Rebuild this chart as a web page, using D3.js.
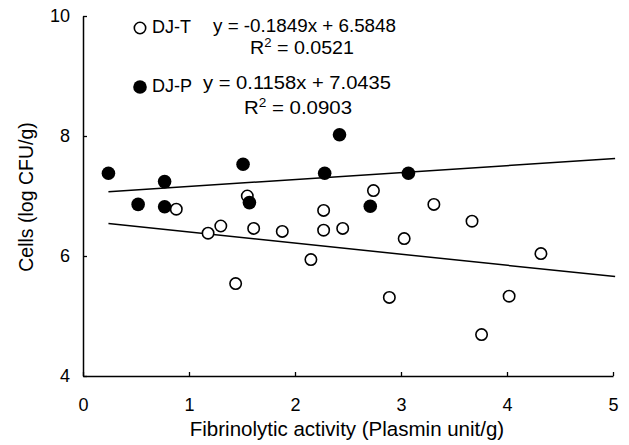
<!DOCTYPE html>
<html>
<head>
<meta charset="utf-8">
<script src="https://cdn.jsdelivr.net/npm/d3@7"></script>
<style>
  html, body { margin: 0; padding: 0; background: #fff; }
  svg { display: block; }
  text { font-family: "Liberation Sans", Arial, Helvetica, sans-serif; fill: #000; }
</style>
</head>
<body>
<svg id="chart" width="629" height="445"></svg>
<script>
// ---- data ----
const xTicks = [0, 1, 2, 3, 4, 5];
const yTicks = [4, 6, 8, 10];

const djT_x = [0.88, 1.55, 1.18, 1.30, 1.61, 1.88, 2.27, 2.27, 2.45, 2.15, 1.44, 2.74, 3.31, 3.67, 3.03, 4.32, 2.89, 4.02, 3.76];
const djT_y = [6.78, 7.00, 6.38, 6.50, 6.46, 6.41, 6.76, 6.43, 6.46, 5.94, 5.54, 7.09, 6.86, 6.58, 6.29, 6.04, 5.31, 5.33, 4.69];

const djP_x = [0.24, 0.77, 1.51, 2.42, 2.28, 0.52, 0.77, 1.57, 3.07, 2.71];
const djP_y = [7.38, 7.24, 7.53, 8.02, 7.38, 6.86, 6.82, 6.89, 7.38, 6.83];

const fitT = { slope: -0.1849, intercept: 6.5848, r2: "0.0521", label: "DJ-T", eq: "y = -0.1849x + 6.5848" };
const fitP = { slope: 0.1158, intercept: 7.0435, r2: "0.0903", label: "DJ-P", eq: "y = 0.1158x + 7.0435" };
const fitRange = [0.24, 5.02];

const xTitle = "Fibrinolytic activity (Plasmin unit/g)";
const yTitle = "Cells (log CFU/g)";

// ---- layout ----
const svg = d3.select("#chart");
const x = d3.scaleLinear().domain([0, 5]).range([83, 613]);
const y = d3.scaleLinear().domain([4, 10]).range([376, 16]);

// axes
const xAxis = d3.axisBottom(x).tickValues(xTicks).tickSizeInner(-4).tickSizeOuter(0).tickPadding(22).tickFormat(d3.format("d"));
const yAxis = d3.axisLeft(y).tickValues(yTicks).tickSizeInner(-4).tickSizeOuter(0).tickPadding(13).tickFormat(d3.format("d"));

const gx = svg.append("g").attr("transform", `translate(0,${y(4)})`).call(xAxis);
const gy = svg.append("g").attr("transform", `translate(${x(0)},0)`).call(yAxis);
[gx, gy].forEach(g => {
  g.select(".domain").attr("stroke", "#000").attr("stroke-width", 1.5);
  g.selectAll(".tick line").attr("stroke", "#000").attr("stroke-width", 1.3);
  g.selectAll(".tick text").attr("font-size", 18).attr("font-family", "Liberation Sans, Arial, sans-serif").attr("fill", "#000");
});

// titles
svg.append("text").attr("x", 347).attr("y", 436).attr("text-anchor", "middle")
  .attr("font-size", 20.5).text(xTitle);
svg.append("text").attr("transform", "translate(33,197) rotate(-90)").attr("text-anchor", "middle")
  .attr("font-size", 19.5).text(yTitle);

// regression lines
const line = d3.line().x(d => x(d[0])).y(d => y(d[1]));
[fitT, fitP].forEach(f => {
  svg.append("path")
    .datum(fitRange.map(v => [v, f.intercept + f.slope * v]))
    .attr("d", line).attr("fill", "none").attr("stroke", "#000").attr("stroke-width", 1.5);
});

// points
const ptsT = djT_x.map((v, i) => [v, djT_y[i]]);
const ptsP = djP_x.map((v, i) => [v, djP_y[i]]);
svg.append("g").selectAll("circle").data(ptsT).join("circle")
  .attr("cx", d => x(d[0])).attr("cy", d => y(d[1])).attr("r", 5.7)
  .attr("fill", "#fff").attr("stroke", "#000").attr("stroke-width", 1.6);
svg.append("g").selectAll("circle").data(ptsP).join("circle")
  .attr("cx", d => x(d[0])).attr("cy", d => y(d[1])).attr("r", 6.8)
  .attr("fill", "#000");

// legend
svg.append("circle").attr("cx", 140).attr("cy", 28).attr("r", 5.7)
  .attr("fill", "#fff").attr("stroke", "#000").attr("stroke-width", 1.6);
svg.append("circle").attr("cx", 140).attr("cy", 87).attr("r", 6.8).attr("fill", "#000");
svg.append("text").attr("x", 152).attr("y", 33).attr("font-size", 18).text(fitT.label);
svg.append("text").attr("x", 152).attr("y", 92).attr("font-size", 18).text(fitP.label);

function eqText(str, xx, yy, len) {
  svg.append("text").attr("x", xx).attr("y", yy).attr("font-size", 18)
    .attr("textLength", len).attr("lengthAdjust", "spacingAndGlyphs").text(str);
}
function r2Text(val, xx, yy, len) {
  const t = svg.append("text").attr("x", xx).attr("y", yy).attr("font-size", 18)
    .attr("textLength", len).attr("lengthAdjust", "spacingAndGlyphs");
  t.append("tspan").text("R");
  t.append("tspan").attr("font-size", 12).attr("dy", -7).text("2");
  t.append("tspan").attr("dy", 7).text(" = " + val);
}
eqText(fitT.eq, 213, 32, 183);
r2Text(fitT.r2, 250, 54, 104);
eqText(fitP.eq, 203, 89, 188);
r2Text(fitP.r2, 244, 114, 108);
</script>
</body>
</html>
